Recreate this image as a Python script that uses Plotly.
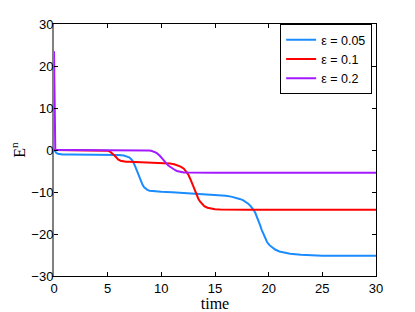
import plotly.graph_objects as go

# ---- data ----
t_005 = [0, 0.1, 0.2, 0.35, 0.5, 0.8, 1.5, 3, 5, 6, 6.5, 6.8, 7.0, 7.2, 7.35, 7.5, 7.65, 7.8, 7.95,
         8.1, 8.25, 8.4, 8.55, 8.7, 8.9, 9.2, 9.6, 10, 11, 12, 13, 14, 15, 15.5, 16, 16.5, 17, 17.3,
         17.6, 17.9, 18.1, 18.3, 18.45, 18.6, 18.75, 18.9, 19.05, 19.2, 19.35, 19.5, 19.65, 19.85,
         20.05, 20.3, 20.6, 21, 21.5, 22, 23, 24, 25, 27, 30]
E_005 = [0, -0.35, -0.65, -0.9, -1.0, -1.08, -1.1, -1.1, -1.15, -1.2, -1.3, -1.5, -1.75, -2.2,
         -2.7, -3.5, -4.5, -5.5, -6.6, -7.6, -8.3, -8.9, -9.25, -9.5, -9.68, -9.8, -9.88, -9.95,
         -10.05, -10.2, -10.35, -10.5, -10.65, -10.75, -10.9, -11.1, -11.4, -11.65, -11.95, -12.4,
         -12.8, -13.3, -13.75, -14.3, -14.95, -15.8, -16.8, -17.9, -19.0, -20.0, -20.9, -21.9,
         -22.6, -23.2, -23.7, -24.15, -24.5, -24.7, -24.95, -25.08, -25.15, -25.2, -25.2]

t_01 = [0, 4, 4.8, 5.0, 5.2, 5.4, 5.55, 5.7, 5.85, 6.0, 6.2, 6.4, 6.7, 7, 8, 9, 10, 10.8, 11.2,
        11.5, 11.8, 12.1, 12.3, 12.5, 12.7, 12.85, 13.0, 13.15, 13.3, 13.45, 13.6, 13.8, 14.0,
        14.3, 14.6, 15, 15.5, 16, 18, 30]
E_01 = [0, 0, -0.05, -0.15, -0.35, -0.7, -1.1, -1.5, -1.95, -2.3, -2.55, -2.7, -2.78, -2.82,
        -2.9, -3.0, -3.08, -3.22, -3.38, -3.6, -3.95, -4.45, -5.0, -5.8, -6.9, -7.9, -9.0, -9.9,
        -10.8, -11.6, -12.25, -12.9, -13.35, -13.75, -13.95, -14.08, -14.15, -14.18, -14.2, -14.2]

t_02 = [0, 0.04, 0.08, 0.12, 1, 5, 8, 8.5, 8.8, 9.05, 9.3, 9.45, 9.6, 9.75, 9.9, 10.05, 10.2,
        10.35, 10.5, 10.65, 10.85, 11.0, 11.15, 11.3, 11.45, 11.6, 11.8, 12.1, 12.5, 13, 15, 30]
E_02 = [23.5, 10, 1, 0, 0, 0, 0, -0.03, -0.1, -0.2, -0.35, -0.55, -0.8, -1.1, -1.5, -1.95, -2.4,
        -2.85, -3.3, -3.7, -4.05, -4.35, -4.6, -4.82, -5.0, -5.12, -5.25, -5.33, -5.38, -5.4,
        -5.4, -5.4]

series_names = ["\u03b5 = 0.05", "\u03b5 = 0.1", "\u03b5 = 0.2"]
series_t = [t_005, t_01, t_02]
series_E = [E_005, E_01, E_02]
colors = ["#1a8cff", "#ff0000", "#a31aff"]

x_ticks = [0, 5, 10, 15, 20, 25, 30]
y_ticks = [-30, -20, -10, 0, 10, 20, 30]

fig = go.Figure()
for name, t, e, c in zip(series_names, series_t, series_E, colors):
    fig.add_trace(go.Scatter(x=t, y=e, mode="lines", name=name,
                             line=dict(color=c, width=2)))
# empty trace so that the right-hand (mirror) axis is drawn
fig.add_trace(go.Scatter(x=[None], y=[None], yaxis="y2", mode="lines",
                         showlegend=False, hoverinfo="skip"))

tickfont = dict(family="Liberation Sans, Arial, sans-serif", size=13, color="black")
serif = "Liberation Serif, Times New Roman, serif"
# the page body has an 8px margin, so the figure is 8px smaller and shifted
fig.update_layout(
    width=407, height=304,
    margin=dict(l=45.5, r=39.3, t=15.5, b=36, autoexpand=False),
    paper_bgcolor="white", plot_bgcolor="white",
    showlegend=True,
    legend=dict(x=0.988, y=1.0, xanchor="right", yanchor="top",
                bgcolor="white", bordercolor="black", borderwidth=1,
                font=dict(family="Liberation Sans, Arial, sans-serif", size=12.5, color="black"),
                tracegroupgap=0, itemwidth=30),
    xaxis=dict(range=[0, 30], tickvals=x_ticks, ticks="inside", ticklen=4,
               tickcolor="black", showline=True, linecolor="black", linewidth=1,
               mirror="ticks", showgrid=False, zeroline=False, tickfont=tickfont,
               automargin=False,
               title=dict(text="time", font=dict(family=serif, size=16, color="black"),
                          standoff=4)),
    yaxis=dict(range=[-30, 30], tickvals=y_ticks, ticks="inside", ticklen=4,
               tickcolor="black", showline=True, linecolor="#808080", linewidth=2,
               mirror=False, showgrid=False, zeroline=False, tickfont=tickfont,
               ticklabelstandoff=-4, automargin=False,
               title=dict(text="E<sup>n</sup>", font=dict(family=serif, size=16, color="black"),
                          standoff=2)),
    yaxis2=dict(range=[-30, 30], tickvals=y_ticks, ticks="inside", ticklen=4,
                tickcolor="black", showline=True, linecolor="black", linewidth=1,
                overlaying="y", side="right", showticklabels=False, showgrid=False,
                zeroline=False, automargin=False),
)

fig.write_html("out.html")
